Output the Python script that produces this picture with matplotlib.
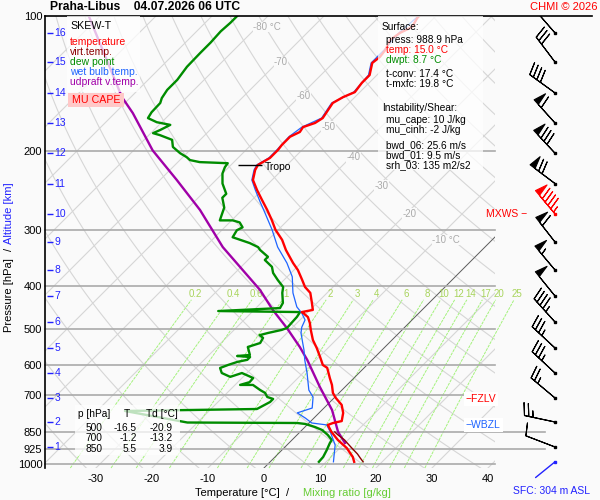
import numpy as np
import matplotlib
matplotlib.use('Agg')
import matplotlib.pyplot as plt
from matplotlib.patches import Rectangle

plt.rcParams['font.family'] = ['Liberation Sans', 'DejaVu Sans']

# ---- sounding data, (pressure hPa, value degC) ----
temperature = [
    (988.9, 15.0), (964.7, 13.9), (921, 11.2), (884, 8.2), (848, 5.6), (818, 3.7),
    (810, 4.3), (802, 5.5), (769, 4.3), (738, 2.6), (712, 0.3), (694, -1.1),
    (666, -2.7), (643, -4.3), (610, -6.6), (601, -7.9), (577, -9.8), (551, -12.0),
    (529, -14.1), (502, -16.3), (484.5, -17.7), (470, -19.1), (460, -20.7),
    (458, -21.1), (453, -19.5), (435, -21.1), (415, -23.0), (402.6, -25.0),
    (388, -26.8), (369, -29.3), (356, -31.4), (333, -35.0), (316, -37.5),
    (300, -40.5), (285.3, -42.9), (271, -45.5), (257.5, -48.2), (244.5, -50.9),
    (232.3, -53.4), (220.6, -54.8), (215, -55.2), (207.4, -54.3), (199, -54.3),
    (194, -54.5), (186, -54.5), (181.5, -53.6), (177, -53.9), (173.3, -52.5),
    (169, -52.0), (156.4, -52.9), (151.7, -52.1), (147.9, -50.9), (141, -51.3),
    (135.5, -51.3), (127.3, -53.0), (123.4, -52.7), (119, -53.0), (113, -53.9),
    (109, -53.4), (105.8, -52.3), (101, -53.0), (100, -53.0)]

virt_temp = [(988.9, 16.6), (969.6, 15.4), (950, 14.2), (921, 12.1), (897.7, 10.4),
             (884, 9.4), (860, 7.2), (848, 6.2)]

dew_point = [
    (988.9, 8.7), (964.7, 8.6), (930.6, 8.0), (897.7, 7.3), (883.9, 7.1), (861.5, 5.5),
    (839.7, 3.6), (827, 1.8), (814, -0.5), (810, -2.1), (808, -21.8), (761.5, -35.0),
    (753.8, -11.8), (727.1, -10.7), (715.8, -10.7), (708.6, -12.1), (694, -13.2),
    (683.8, -14.6), (666.1, -16.8), (666, -19.1), (656.6, -17.9), (642.8, -18.0),
    (626.5, -20.9), (639, -22.3), (626.5, -24.5), (610.5, -25.7), (601, -24.8),
    (591.7, -23.7), (585.4, -22.3), (577, -22.3), (574, -24.8), (571, -22.7),
    (548, -24.5), (537, -23.0), (523, -23.4), (515.7, -24.5), (510, -23.4),
    (502, -21.5), (497, -20.9), (469.6, -21.1), (458, -21.4), (455.6, -36.2),
    (448.7, -25.7), (437, -26.1), (415, -28.0), (402.6, -28.9), (388.5, -31.1),
    (374.6, -33.2), (363, -34.5), (350.4, -37.0), (344.8, -37.0), (333, -39.6),
    (328, -40.5), (321.3, -42.7), (311.8, -46.8), (300.8, -47.3), (296.3, -46.8),
    (288.9, -48.2), (285.9, -49.8), (285.9, -52.1), (276.1, -52.9), (267.7, -53.6),
    (254.5, -55.7), (249.4, -55.7), (236.6, -58.2), (224.7, -60.0), (217.5, -60.7),
    (213.1, -60.9), (211.9, -66.1), (209.7, -68.2), (206.6, -69.3), (202.4, -71.2),
    (196, -73.6), (189, -75.0), (184.5, -78.0), (182.6, -79.6), (179.7, -78.9),
    (175, -78.0), (172.6, -80.9), (169, -83.2), (164, -83.6), (156.4, -83.7),
    (152.5, -84.3), (146.2, -84.8), (138.8, -84.8), (129.8, -85.4), (120.7, -85.5),
    (114.6, -85.5), (108.2, -85.7), (103.6, -85.5), (100, -85.5)]

wet_bulb = [
    (988.9, 11.3), (907, 8.6), (848, 5.4), (818, 3.5), (810, 0.5), (790, -1.5),
    (769, -3.9), (750, -2.1), (709, -3.9), (684, -5.9), (626, -9.3), (586, -12.0),
    (557, -13.9), (537, -15.4), (510, -17.5), (495, -18.4), (477, -19.1),
    (460.5, -20.9), (446, -22.9), (415, -26.1), (382, -29.1), (356, -32.5),
    (328, -37.0), (300, -41.1), (275, -45.4), (260, -48.2), (244.5, -51.2),
    (232.3, -53.6), (220.6, -55.0), (215, -55.4), (207.4, -54.5), (199, -54.5),
    (186, -54.7), (177, -54.1), (169, -52.2), (156.4, -53.1), (147.9, -51.1),
    (135.5, -51.5), (127.3, -53.2), (119, -53.2), (109, -53.6), (101, -53.2),
    (100, -53.2)]

updraft_vt = [
    (897.7, 10.0), (848.3, 6.8), (757.7, 1.8), (673, -4.5), (585.4, -11.6),
    (548.2, -15.2), (497.2, -20.9), (453.4, -26.6), (408.8, -32.5), (328, -46.8),
    (271, -57.5), (232.3, -67.0), (199.5, -76.6), (164.7, -86.8), (151.7, -91.6),
    (100, -112.0)]

# altitude marks (km) and winds at those levels
alt_km = [16, 15, 14, 13, 12, 11, 10, 9, 8, 7, 6, 5, 4, 3, 2, 1]
alt_p = [109.1, 126.7, 148.5, 173.3, 202.4, 236.6, 276.1, 319.5, 368.9, 421.7,
         482.0, 550.9, 626.5, 712.2, 805.9, 916.3]
wind_dir = [319, 323, 306, 318, 317, 307, 320, 322, 320, 321, 318, 313, 313, 310, 282, 291]
wind_spd = [20, 30, 40, 60, 80, 70, 95, 60, 55, 50, 45, 35, 35, 25, 25, 10]
mxws_km = 10
sfc_p = 988.9
sfc_dir = 231

tropo_p, tropo_t = 215, -55.2
fzlv_p, wbzl_p = 716, 818

isobars = [200, 300, 400, 500, 600, 700, 850, 925, 1000]
t_ticks = [-30, -20, -10, 0, 10, 20, 30, 40]
mix_ratios = [0.2, 0.4, 0.6, 1, 2, 3, 4, 6, 8, 10, 12, 14, 17, 20, 25]
iso_labels = [(-80, 105.8, '-80 °C'), (-70, 126.7, '-70'), (-60, 150.8, '-60'),
              (-50, 176.6, '-50'), (-40, 206.6, '-40'), (-30, 239.1, '-30'),
              (-20, 276.1, '-20'), (-10, 316.2, '-10 °C')]

table_rows = [('500', '-16.5', '-20.9'), ('700', '-1.2', '-13.2'), ('850', '5.5', '3.9')]

P_BOT = 1020.8
SKEW = 80.0  # degC shift per pressure decade
BG = '#fafafa'
LW = 1.7


def sx(t, p):
    return np.asarray(t, dtype=float) + SKEW * np.log10(P_BOT / np.asarray(p, dtype=float))


def split(pairs):
    a = np.array(pairs)
    return a[:, 0], a[:, 1]


def fx(px):
    return px / 600.0


def fy(py):
    return 1 - py / 500.0


def td_from_w(w, p):
    e = w * p / (622.0 + w)
    g = np.log(e / 6.112)
    return 243.5 * g / (17.67 - g)


fig = plt.figure(figsize=(6, 5), dpi=100, facecolor=BG)
ax = fig.add_axes([0.075, 0.064, 0.75, 0.904])
ax.set_facecolor(BG)
ax.set_yscale('log')
ax.set_ylim(P_BOT, 100)
ax.set_xlim(-39.1, 41.25)

pp = np.geomspace(P_BOT, 100, 80)
# isotherms
for t0 in range(-130, 50, 10):
    ax.plot(sx(t0, pp), pp, color='#d6d6d6', lw=0.8, zorder=1)
# dry adiabats
for th in range(230, 480, 10):
    ax.plot(sx(th * (pp / 1000.0) ** 0.286 - 273.15, pp), pp, color='#d6d6d6', lw=0.8, zorder=1)
ax.plot(sx(0, pp), pp, color='#555555', lw=0.6, zorder=2)

# mixing ratio lines
pm = np.geomspace(P_BOT, 430, 40)
for w in mix_ratios:
    ax.plot(sx(td_from_w(w, pm), pm), pm, color='#a4f27c', lw=0.7, ls=(0, (3, 1)),
            zorder=1.5, clip_on=False)
    lab = ('%g' % w)
    ax.text(sx(td_from_w(w, 417), 417), 417, lab, ha='center', va='center',
            color='#a8d45c', fontsize=7, zorder=2, clip_on=False)

for t0, p0, lab in iso_labels:
    ax.annotate(lab, (sx(t0, p0), p0), xytext=(-4, 0), textcoords='offset pixels',
                ha='left', va='center', color='#aaaaaa', fontsize=7, zorder=2,
                bbox=dict(fc=BG, ec='none', pad=0.3))

for pl in isobars:
    ext = 1.11 if pl in (850, 925) else 1.0
    ax.axhline(pl, xmin=0, xmax=ext, color='#aaaaaa', lw=1.2, zorder=2, clip_on=False)
ax.axhline(100, xmin=0, xmax=(592 - 45) / 450, color='k', lw=1.2, zorder=6, clip_on=False)

# sounding lines
p, t = split(updraft_vt)
ax.plot(sx(t, p), p, color='#a000a8', lw=LW, zorder=4)
p, t = split(dew_point)
ax.plot(sx(t, p), p, color='#008c00', lw=LW, zorder=4)
p, t = split(virt_temp)
ax.plot(sx(t, p), p, color='#8b0000', lw=1.0, zorder=4.5)
p, t = split(wet_bulb)
ax.plot(sx(t, p), p, color='#1e64ff', lw=0.9, zorder=5)
p, t = split(temperature)
ax.plot(sx(t, p), p, color='#ff0000', lw=LW, zorder=5.5)

# tropopause
xt = float(sx(tropo_t, tropo_p))
ax.hlines(tropo_p, xt - 3.6, xt + 0.7, color='k', lw=1, zorder=6)
ax.text(xt + 1.2, tropo_p * 1.01, 'Tropo', fontsize=7.5, va='center', zorder=6)

# axes styling
for s in ['top', 'right', 'bottom']:
    ax.spines[s].set_visible(False)
ax.spines['left'].set_linewidth(1.2)
ax.set_yticks([100] + isobars)
ax.set_yticklabels([str(v) for v in [100] + isobars])
ax.yaxis.set_minor_locator(matplotlib.ticker.NullLocator())
ax.set_xticks(t_ticks)
ax.set_xticklabels([str(v) for v in t_ticks])
ax.tick_params(axis='y', length=0, pad=2, labelsize=8)
ax.tick_params(axis='x', length=0, pad=4, labelsize=8)

# altitude marks
ytr = ax.get_yaxis_transform()
ax.hlines(alt_p, 0.0045, 0.018, transform=ytr, color='#2222ff', lw=1, zorder=7)
for km, pk in zip(alt_km, alt_p):
    ax.text(0.021, pk, str(km), transform=ytr, color='#2222ff', fontsize=7.5,
            va='center', ha='left', zorder=7)

# right side level labels
ax.text(1.072, alt_p[alt_km.index(mxws_km)], 'MXWS \u2212', transform=ytr, color='red',
        fontsize=7.5, ha='right', va='center', clip_on=False)
ax.text(0.935, fzlv_p, '\u2212FZLV', transform=ytr, color='red', fontsize=7.5,
        ha='left', va='center', clip_on=False, zorder=8,
        bbox=dict(fc='white', ec='none', pad=1.5))
ax.text(0.935, wbzl_p, '\u2212WBZL', transform=ytr, color='#1e64ff', fontsize=7.5,
        ha='left', va='center', clip_on=False, zorder=8,
        bbox=dict(fc='white', ec='none', pad=1.5))

# wind barbs
axw = fig.add_axes([495 / 600, 0.064, 105 / 600, 0.904])
axw.set_yscale('log')
axw.set_ylim(P_BOT, 100)
axw.set_xlim(0, 1)
axw.axis('off')
bx = (555 - 495) / 105
rad = np.deg2rad(np.array(wind_dir, dtype=float))
spd = np.array(wind_spd, dtype=float)
u = -spd * np.sin(rad)
v = -spd * np.cos(rad)
red = np.array([k == mxws_km for k in alt_km])
ap = np.array(alt_p)
xs = np.full(len(ap), bx)
bsize = dict(spacing=0.14, height=0.4, width=0.2)
axw.barbs(xs[~red], ap[~red], u[~red], v[~red], length=6.7, color='k', lw=0.8, sizes=bsize)
axw.barbs(xs[red], ap[red], u[red], v[red], length=6.7, color='red', lw=0.8, sizes=bsize)
axw.plot(xs[~red], ap[~red], 's', ms=2, color='k')
axw.plot(xs[red], ap[red], 's', ms=2, color='red')
# surface wind: plain staff pointing towards where the wind comes from
sr = np.deg2rad(sfc_dir)
axw.annotate('', xy=(bx, sfc_p), xytext=(25 * np.sin(sr), 25 * np.cos(sr)),
             textcoords='offset pixels',
             arrowprops=dict(arrowstyle='-', color='#2222ff', lw=1, shrinkA=0, shrinkB=0))
axw.plot([bx], [sfc_p], 's', ms=2, color='#2222ff')

# overlay boxes
def box(x0, y0, x1, y1, fc, alpha):
    fig.add_artist(Rectangle((fx(x0), fy(y1)), fx(x1) - fx(x0), fy(y0) - fy(y1),
                             transform=fig.transFigure, fc=fc, ec='none', alpha=alpha, zorder=2))


def ftxt(x, y, s, **kw):
    kw.setdefault('fontsize', 7.3)
    kw.setdefault('va', 'center')
    fig.text(fx(x), fy(y), s, zorder=3, **kw)


box(67, 16, 140, 92, 'white', 0.75)
box(68, 93, 124, 107, '#ffc8c8', 1.0)
legend_items = [('SKEW-T', 'black', 26), ('temperature', 'red', 42), ('virt.temp.', '#8b0000', 52),
                ('dew point', '#008c00', 62), ('wet bulb temp.', '#1e64ff', 72),
                ('udpraft v.temp.', '#a000a8', 82)]
for s, c, y in legend_items:
    ftxt(70, y, s, color=c, fontsize=7.7 if s == 'SKEW-T' else 7.5)
ftxt(96, 100, 'MU CAPE', color='red', ha='center', fontsize=7.7)

box(378, 16, 483, 170, 'white', 0.75)
info = [('Surface:', 'black', 382, 27), ('press: 988.9 hPa', 'black', 386, 40),
        ('temp: 15.0 °C', 'red', 386, 50), ('dwpt: 8.7 °C', '#008c00', 386, 60),
        ('t-conv: 17.4 °C', 'black', 386, 74), ('t-mxfc: 19.8 °C', 'black', 386, 84),
        ('Instability/Shear:', 'black', 382, 108), ('mu_cape: 10 J/kg', 'black', 386, 120),
        ('mu_cinh: -2 J/kg', 'black', 386, 130), ('bwd_06: 25.6 m/s', 'black', 386, 145),
        ('bwd_01: 9.5 m/s', 'black', 386, 155), ('srh_03: 135 m2/s2', 'black', 386, 165)]
for s, c, x, y in info:
    ftxt(x, y, s, color=c)

box(75, 405, 180, 455, 'white', 0.75)
ftxt(78, 414, 'p [hPa]')
ftxt(127, 414, 'T', ha='center')
ftxt(146, 414, 'Td [°C]')
for i, (pv, tv, dv) in enumerate(table_rows):
    yy = 428 + i * 10.3
    ftxt(102, yy, pv, ha='right')
    ftxt(137, yy, tv, ha='right')
    ftxt(173, yy, dv, ha='right')

# titles and axis labels
ftxt(50, 7, 'Praha-Libus    04.07.2026 06 UTC', fontweight='bold', fontsize=8.7)
ftxt(597, 7, 'CHMI © 2026', color='red', ha='right', fontsize=8)
ftxt(280, 493, 'Temperature [°C]', ha='right', fontsize=8)
ftxt(288, 493, '/', ha='center', fontsize=8)
ftxt(303, 493, 'Mixing ratio [g/kg]', color='#66cc33', fontsize=8)
ftxt(590, 491, 'SFC: 304 m ASL', color='#2222ff', ha='right', fontsize=7.5)
ftxt(9, 295, 'Pressure [hPa]', rotation=90, ha='center', fontsize=8)
ftxt(9, 249, '/', rotation=90, ha='center', fontsize=8)
ftxt(9, 213, 'Altitude [km]', rotation=90, ha='center', color='#2222ff', fontsize=8)

fig.savefig('out.png', dpi=100, facecolor=BG)
